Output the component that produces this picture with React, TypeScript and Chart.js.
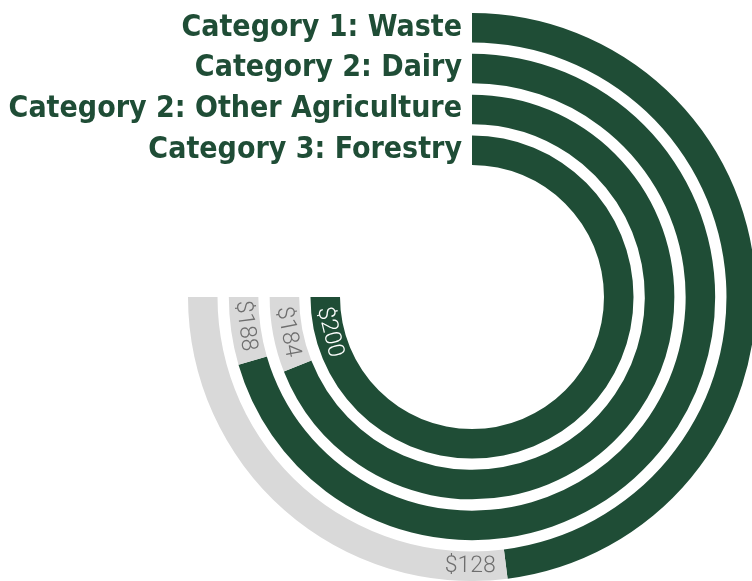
import React, { useEffect, useRef } from "react";
import { Chart, registerables } from "chart.js";

Chart.register(...registerables);

const categories = [
  "Category 1: Waste",
  "Category 2: Dairy",
  "Category 2: Other Agriculture",
  "Category 3: Forestry",
];
const values = [128, 188, 184, 200];
const maxValue = 200;
const valueLabels = ["$128", "$188", "$184", "$200"];

const GREEN = "#1f4d36";
const GREY = "#d9d9d9";
const VALUE_GREY = "#6e6e6e";
const RING_WEIGHT = 29.5;
const GAP_WEIGHT = 11.3;
const OUTER_R = 284;
const INNER_R = 132;
const CAT_FONT = "bold 30px 'DejaVu Sans Condensed'";
const VAL_FONT = "300 23px Roboto";

const labelPlugin = {
  id: "radialLabels",
  afterDatasetsDraw(chart: any) {
    const ctx = chart.ctx;
    chart.data.datasets.forEach((ds: any, di: number) => {
      if (ds.ringIndex === undefined) return;
      const i = ds.ringIndex;
      const arc = chart.getDatasetMeta(di).data[0];
      const { x, y, startAngle, endAngle, innerRadius, outerRadius } = arc.getProps(
        ["x", "y", "startAngle", "endAngle", "innerRadius", "outerRadius"],
        true
      );
      const rm = (innerRadius + outerRadius) / 2;
      ctx.save();
      ctx.font = CAT_FONT;
      ctx.fillStyle = GREEN;
      ctx.textAlign = "right";
      ctx.textBaseline = "middle";
      ctx.fillText(categories[i], x + rm * Math.cos(startAngle) - 10, y + rm * Math.sin(startAngle));
      ctx.restore();

      ctx.save();
      ctx.font = VAL_FONT;
      const w = ctx.measureText(valueLabels[i]).width;
      const pad = 10;
      const full = values[i] >= maxValue;
      const theta = full ? endAngle - (pad + w / 2) / rm : endAngle + (pad + w / 2) / rm;
      ctx.translate(x + rm * Math.cos(theta), y + rm * Math.sin(theta));
      ctx.rotate(theta - Math.PI / 2);
      ctx.textAlign = "center";
      ctx.textBaseline = "middle";
      ctx.fillStyle = full ? "#ffffff" : VALUE_GREY;
      ctx.fillText(valueLabels[i], 0, 0);
      ctx.restore();
    });
  },
};

export default function App() {
  const ref = useRef<HTMLCanvasElement | null>(null);
  useEffect(() => {
    if (!ref.current) return;
    const datasets: any[] = [];
    values.forEach((v, i) => {
      if (i > 0) {
        datasets.push({
          data: [maxValue],
          backgroundColor: ["rgba(0,0,0,0)"],
          weight: GAP_WEIGHT,
        });
      }
      datasets.push({
        data: [v, maxValue - v],
        backgroundColor: [GREEN, GREY],
        weight: RING_WEIGHT,
        ringIndex: i,
      });
    });
    const chart = new Chart(ref.current, {
      type: "doughnut",
      data: { labels: ["value", "rest"], datasets },
      options: {
        animation: false,
        responsive: false,
        rotation: 0,
        circumference: 270,
        radius: OUTER_R,
        cutout: `${(INNER_R / OUTER_R) * 100}%`,
        borderWidth: 0,
        layout: { padding: { left: 192, right: 0, top: 13, bottom: 0 } },
        plugins: { legend: { display: false }, tooltip: { enabled: false } },
        elements: { arc: { borderWidth: 0 } },
      } as any,
      plugins: [labelPlugin],
    });
    return () => chart.destroy();
  }, []);
  return (
    <div style={{ position: "absolute", left: 0, top: 0, width: 752, height: 581, background: "#fff" }}>
      <canvas ref={ref} width={752} height={581} />
    </div>
  );
}
